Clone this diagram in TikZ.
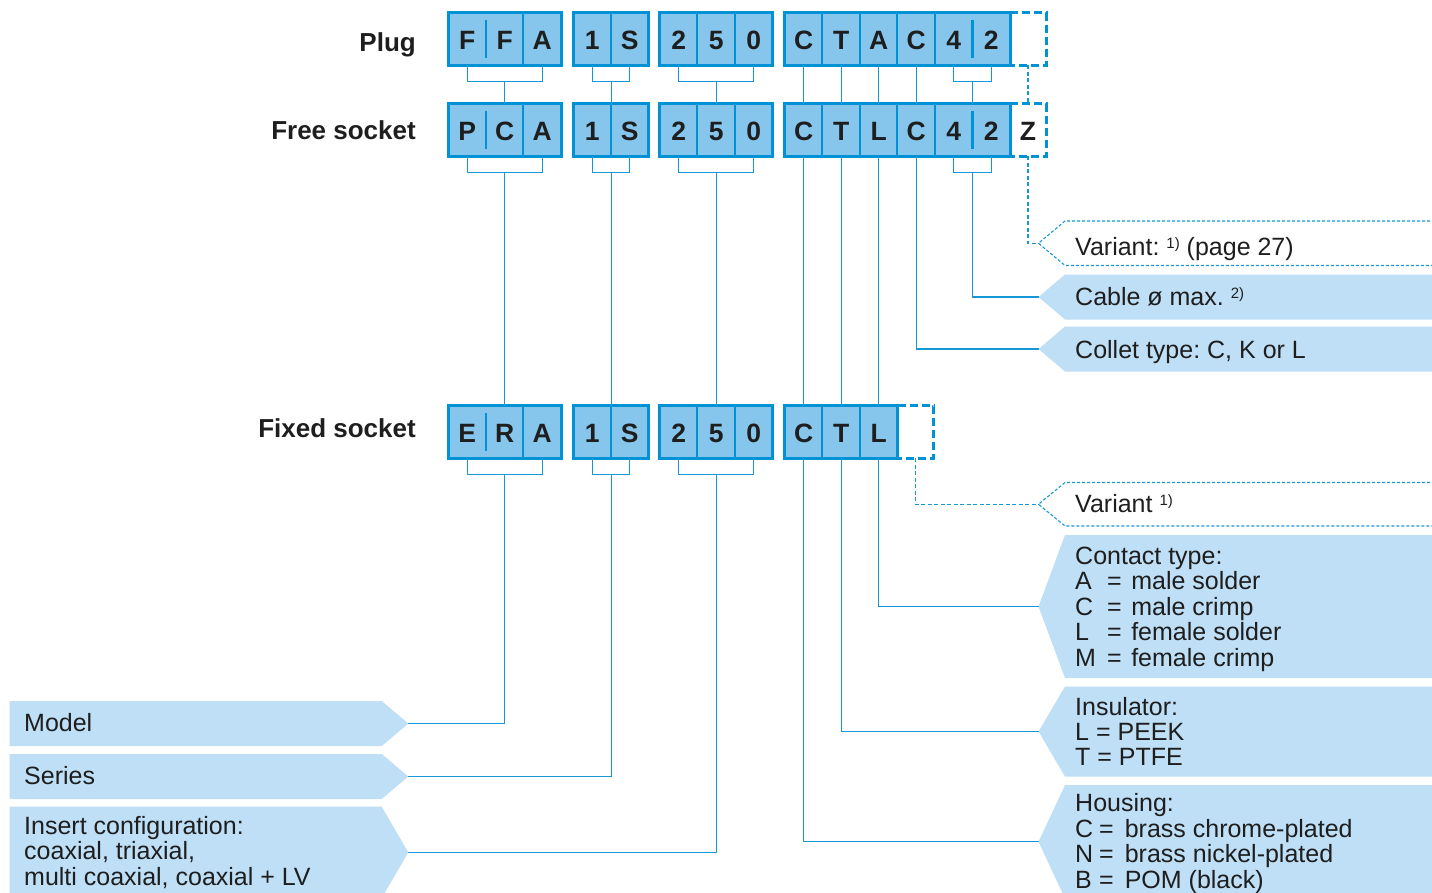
\documentclass[tikz,border=0pt]{standalone}
\usepackage{fontspec}
\setmainfont{Liberation Sans}
\definecolor{cellfill}{RGB}{134,198,236}
\definecolor{cellline}{RGB}{0,146,212}
\definecolor{tagfill}{RGB}{190,223,246}
\definecolor{wire}{RGB}{22,152,214}
\definecolor{ink}{RGB}{30,30,30}
% small raised note marks such as 1) and 2)
\newcommand\supnote[1]{\raisebox{7pt}{\fontsize{15}{15}\selectfont #1}}
% arrow-shaped tags: name, top, bottom
\newcommand\tagright[3]{%
  \fill[tagfill] (1440,#2) -- (1065,#2) -- (1038.5,{(#2+#3)/2}) -- (1065,#3) -- (1440,#3) -- cycle;
  \coordinate (#1) at (1038.5,{(#2+#3)/2});}
\newcommand\tagdashed[3]{%
  \draw[tagdash] (1440,#2) -- (1065,#2) -- (1038.5,{(#2+#3)/2}) -- (1065,#3) -- (1440,#3);
  \coordinate (#1) at (1038.5,{(#2+#3)/2});}
\newcommand\tagleft[3]{%
  \fill[tagfill] (9.5,#2) -- (381.7,#2) -- (408.3,{(#2+#3)/2}) -- (381.7,#3) -- (9.5,#3) -- cycle;
  \coordinate (#1) at (408.3,{(#2+#3)/2});}
\begin{document}
\frenchspacing
\begin{tikzpicture}[x=1pt,y=-1pt,
  cell/.style={minimum width=37.5pt,minimum height=52pt,inner sep=0pt,
    text height=20pt,text depth=0pt,font=\bfseries\fontsize{26.5}{26.5}\selectfont,text=ink},
  fcell/.style={cell,fill=cellfill},
  spare/.style={cell,minimum width=36pt},
  frame/.style={draw=cellline,line width=3pt},
  divider/.style={draw=cellline,line width=2pt},
  split/.style={draw=cellline,line width=2.5pt},
  dashframe/.style={draw=cellline,line width=3pt,dash pattern=on 8pt off 4pt},
  wire/.style={draw=wire,line width=1.4pt},
  dashwire/.style={draw=wire,line width=1.5pt,dash pattern=on 4pt off 2.5pt},
  tagdash/.style={draw=wire,line width=1.1pt,dash pattern=on 3pt off 2pt},
  rowlabel/.style={anchor=base east,inner sep=0pt,font=\bfseries\fontsize{26}{26}\selectfont,text=ink},
  tagtext/.style={anchor=base west,inner sep=0pt,font=\fontsize{25}{25}\selectfont,text=ink},
]
\clip (0,0) rectangle (1432,892);

% ---- tags on the right
\tagdashed{tagvarp}{221}{265.5}
\tagright{tagcable}{274.5}{319.5}
\tagright{tagcollet}{326.5}{371.5}
\tagdashed{tagvarf}{482.5}{526}
\tagright{tagcontact}{535}{678}
\tagright{taginsul}{686.5}{776.5}
\tagright{taghousing}{785}{898.5}
% ---- tags on the left
\tagleft{tagmodel}{701}{746}
\tagleft{tagseries}{754}{799}
\tagleft{taginsert}{806.7}{898}

\node[tagtext] (tvarp) at (1075,255) {Variant: \supnote{1)} (page 27)};
\node[tagtext] (tcable) at (1075,305) {Cable ø max. \supnote{2)}};
\node[tagtext] (tcollet) at (1075,358) {Collet type: C, K or L};
\node[tagtext] (tvarf) at (1075,512) {Variant \supnote{1)}};
\node[tagtext] (tcontact) at (1075,564) {\begin{tabular}[t]{@{}l@{}}
  Contact type:\\
  \makebox[32pt][l]{A}=\hspace{9.5pt}male solder\\
  \makebox[32pt][l]{C}=\hspace{9.5pt}male crimp\\
  \makebox[32pt][l]{L}=\hspace{9.5pt}female solder\\
  \makebox[32pt][l]{M}=\hspace{9.5pt}female crimp\end{tabular}};
\node[tagtext] (tinsul) at (1075,715) {\begin{tabular}[t]{@{}l@{}}
  Insulator:\\ L = PEEK\\ T = PTFE\end{tabular}};
\node[tagtext] (thousing) at (1075,811.7) {\begin{tabular}[t]{@{}l@{}}
  Housing:\\
  \makebox[24pt][l]{C}=\hspace{11pt}brass chrome-plated\\
  \makebox[24pt][l]{N}=\hspace{11pt}brass nickel-plated\\
  \makebox[24pt][l]{B}=\hspace{11pt}POM (black)\end{tabular}};
\node[tagtext] (tmodel) at (24,731.7) {Model};
\node[tagtext] (tseries) at (24,784.3) {Series};
\node[tagtext] (tinsert) at (24,834) {\begin{tabular}[t]{@{}l@{}}
  Insert configuration:\\ coaxial, triaxial,\\ multi coaxial, coaxial + LV\end{tabular}};

% ---- row labels
\node[rowlabel] (lplug) at (416,51) {Plug};
\node[rowlabel] (lfree) at (416,139) {Free socket};
\node[rowlabel] (lfixed) at (416,437.5) {Fixed socket};

% ---- plug code
\node[fcell] (pa1) at (467.25,39) {F};
\node[fcell] (pa2) at (504.75,39) {F};
\node[fcell] (pa3) at (542.25,39) {A};
\node[fcell] (pb1) at (592.25,39) {1};
\node[fcell] (pb2) at (629.75,39) {S};
\node[fcell] (pc1) at (678.75,39) {2};
\node[fcell] (pc2) at (716.25,39) {5};
\node[fcell] (pc3) at (753.75,39) {0};
\node[fcell] (pd1) at (803.75,39) {C};
\node[fcell] (pd2) at (841.25,39) {T};
\node[fcell] (pd3) at (878.75,39) {A};
\node[fcell] (pd4) at (916.25,39) {C};
\node[fcell] (pd5) at (953.75,39) {4};
\node[fcell] (pd6) at (991.25,39) {2};
\node[spare] (pe) at (1028,39) {};

% ---- free socket code
\node[fcell] (fa1) at (467.25,130) {P};
\node[fcell] (fa2) at (504.75,130) {C};
\node[fcell] (fa3) at (542.25,130) {A};
\node[fcell] (fb1) at (592.25,130) {1};
\node[fcell] (fb2) at (629.75,130) {S};
\node[fcell] (fc1) at (678.75,130) {2};
\node[fcell] (fc2) at (716.25,130) {5};
\node[fcell] (fc3) at (753.75,130) {0};
\node[fcell] (fd1) at (803.75,130) {C};
\node[fcell] (fd2) at (841.25,130) {T};
\node[fcell] (fd3) at (878.75,130) {L};
\node[fcell] (fd4) at (916.25,130) {C};
\node[fcell] (fd5) at (953.75,130) {4};
\node[fcell] (fd6) at (991.25,130) {2};
\node[spare] (fe) at (1028,130) {Z};

% ---- fixed socket code
\node[fcell] (xa1) at (467.25,432) {E};
\node[fcell] (xa2) at (504.75,432) {R};
\node[fcell] (xa3) at (542.25,432) {A};
\node[fcell] (xb1) at (592.25,432) {1};
\node[fcell] (xb2) at (629.75,432) {S};
\node[fcell] (xc1) at (678.75,432) {2};
\node[fcell] (xc2) at (716.25,432) {5};
\node[fcell] (xc3) at (753.75,432) {0};
\node[fcell] (xd1) at (803.75,432) {C};
\node[fcell] (xd2) at (841.25,432) {T};
\node[fcell] (xd3) at (878.75,432) {L};
\node[spare] (xe) at (915.5,432) {};

% ---- frames and dividers of the code groups
\foreach \rw in {p,f,x}{
  \draw[frame] (\rw a1.north west) rectangle (\rw a3.south east);
  \draw[divider] (\rw a3.north west) -- (\rw a3.south west);
  \draw[split] ([yshift=-7pt]\rw a2.north west) -- ([yshift=7pt]\rw a2.south west);
  \draw[frame] (\rw b1.north west) rectangle (\rw b2.south east);
  \draw[divider] (\rw b2.north west) -- (\rw b2.south west);
  \draw[frame] (\rw c1.north west) rectangle (\rw c3.south east);
  \draw[divider] (\rw c2.north west) -- (\rw c2.south west);
  \draw[divider] (\rw c3.north west) -- (\rw c3.south west);
  \draw[divider] (\rw d2.north west) -- (\rw d2.south west);
  \draw[divider] (\rw d3.north west) -- (\rw d3.south west);
}
\foreach \rw in {p,f}{
  \draw[frame] (\rw d1.north west) rectangle (\rw d6.south east);
  \draw[divider] (\rw d4.north west) -- (\rw d4.south west);
  \draw[divider] (\rw d5.north west) -- (\rw d5.south west);
  \draw[split] ([yshift=-7pt]\rw d6.north west) -- ([yshift=7pt]\rw d6.south west);
  \draw[dashframe] (\rw d6.north east) -- (\rw e.north east) -- (\rw e.south east) -- (\rw d6.south east);
}
\draw[frame] (xd1.north west) rectangle (xd3.south east);
\draw[dashframe] (xd3.north east) -- (xe.north east) -- (xe.south east) -- (xd3.south east);

% ---- plug to free socket
\draw[wire] (pa1.south) |- ([yshift=-16pt]pa2.south) -| (pa3.south);
\draw[wire] ([yshift=-16pt]pa2.south) -- (fa2.north);
\draw[wire] (pb1.south) |- ([yshift=-16pt]pb1.south east) -| (pb2.south);
\draw[wire] ([yshift=-16pt]pb1.south east) -- (fb1.north east);
\draw[wire] (pc1.south) |- ([yshift=-16pt]pc2.south) -| (pc3.south);
\draw[wire] ([yshift=-16pt]pc2.south) -- (fc2.north);
\draw[wire] (pd1.south) -- (fd1.north);
\draw[wire] (pd2.south) -- (fd2.north);
\draw[wire] (pd3.south) -- (fd3.north);
\draw[wire] (pd4.south) -- (fd4.north);
\draw[wire] (pd5.south) |- ([yshift=-16pt]pd5.south east) -| (pd6.south);
\draw[wire] ([yshift=-16pt]pd5.south east) -- (fd5.north east);
\draw[dashwire] (pe.south) -- (fe.north);

% ---- free socket to fixed socket and right tags
\draw[wire] (fa1.south) |- ([yshift=-16pt]fa2.south) -| (fa3.south);
\draw[wire] ([yshift=-16pt]fa2.south) -- (xa2.north);
\draw[wire] (fb1.south) |- ([yshift=-16pt]fb1.south east) -| (fb2.south);
\draw[wire] ([yshift=-16pt]fb1.south east) -- (xb1.north east);
\draw[wire] (fc1.south) |- ([yshift=-16pt]fc2.south) -| (fc3.south);
\draw[wire] ([yshift=-16pt]fc2.south) -- (xc2.north);
\draw[wire] (fd1.south) -- (xd1.north);
\draw[wire] (fd2.south) -- (xd2.north);
\draw[wire] (fd3.south) -- (xd3.north);
\draw[wire] (fd4.south) |- (tagcollet);
\draw[wire] (fd5.south) |- ([yshift=-16pt]fd5.south east) -| (fd6.south);
\draw[wire] ([yshift=-16pt]fd5.south east) |- (tagcable);
\draw[dashwire] (fe.south) |- (tagvarp);

% ---- fixed socket to tags
\draw[wire] (xa1.south) |- ([yshift=-16pt]xa2.south) -| (xa3.south);
\draw[wire] ([yshift=-16pt]xa2.south) |- (tagmodel);
\draw[wire] (xb1.south) |- ([yshift=-16pt]xb1.south east) -| (xb2.south);
\draw[wire] ([yshift=-16pt]xb1.south east) |- (tagseries);
\draw[wire] (xc1.south) |- ([yshift=-16pt]xc2.south) -| (xc3.south);
\draw[wire] ([yshift=-16pt]xc2.south) |- (taginsert);
\draw[wire] (xd1.south) |- (taghousing);
\draw[wire] (xd2.south) |- (taginsul);
\draw[wire] (xd3.south) |- (tagcontact);
\draw[dashwire] (xe.south) |- (tagvarf);
\end{tikzpicture}
\end{document}
